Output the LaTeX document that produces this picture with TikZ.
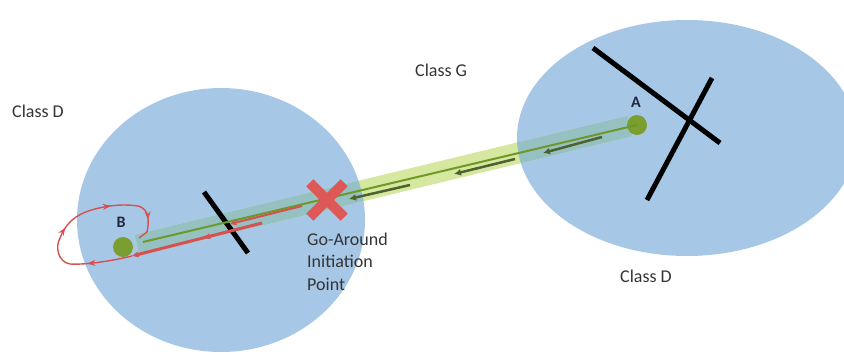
\documentclass[tikz,border=0pt]{standalone}
\usepackage{fontspec}
\setmainfont{Carlito}
\usetikzlibrary{arrows.meta,decorations.markings}
\definecolor{zoneblue}{RGB}{167,199,230}
\definecolor{bandgreen}{RGB}{214,232,160}
\definecolor{bandteal}{RGB}{150,193,195}
\definecolor{ptgreen}{RGB}{122,158,48}
\definecolor{linegreen}{RGB}{110,152,40}
\definecolor{arrowgreen}{RGB}{78,98,48}
\definecolor{xred}{RGB}{222,88,88}
\definecolor{pathred}{RGB}{214,80,80}
\definecolor{txt}{RGB}{52,52,52}
\definecolor{ptxt}{RGB}{30,40,60}
\begin{document}
\begin{tikzpicture}[x=1pt,y=-1pt,
  zone/.style={fill=zoneblue,draw=none},
  lbl/.style={font=\fontsize{18}{22}\selectfont, text=txt, anchor=base west, inner sep=0pt},
  ptnode/.style={circle, fill=ptgreen, minimum size=20pt, inner sep=0pt},
  ptlbl/.style={font=\bfseries\fontsize{16}{18}\selectfont, text=ptxt, inner sep=0pt},
  fly/.style={draw=arrowgreen, line width=2.5pt, -{Latex[length=7pt,width=7pt]}},
  bar/.style={draw=black, line width=5pt},
  redarrow/.style={draw=pathred, -{Stealth[length=7pt,width=6pt]}},
  band/.style={line width=21pt}
]
\useasboundingbox (0,0) rectangle (844,356);
\clip (0,0) rectangle (844,356);
% zones
\fill[zone] (221,220) ellipse [x radius=144, y radius=132];
\fill[zone] (687,138) ellipse [x radius=170, y radius=118];
% corridor band
\coordinate (bandB) at (137,245);
\coordinate (bandA) at (630,126);
\draw[bandgreen, band] (bandB) -- (bandA);
\begin{scope}
  \clip (221,220) ellipse [x radius=144, y radius=132];
  \draw[bandteal, band] (bandB) -- (bandA);
\end{scope}
\begin{scope}
  \clip (687,138) ellipse [x radius=170, y radius=118];
  \draw[bandteal, band] (bandB) -- (bandA);
\end{scope}
% runway bars
\coordinate (r1a) at (593,48);  \coordinate (r1b) at (720,143);
\coordinate (r2a) at (712,78);  \coordinate (r2b) at (647,200);
\coordinate (r3a) at (204,192); \coordinate (r3b) at (248,253);
\draw[bar] (r1a) -- (r1b);
\draw[bar] (r2a) -- (r2b);
\draw[bar] (r3a) -- (r3b);
% points
\node[ptnode] (A) at (637,125) {};
\node[ptnode] (B) at (123,247) {};
\node[ptlbl] (Alab) at (636,102) {A};
\node[ptlbl] (Blab) at (121,222) {B};
% green track
\coordinate (trackend) at (143,242);
\draw[linegreen, line width=2pt] (A.center) -- (trackend);
% flight arrows
\coordinate (f1s) at (602,137); \coordinate (f1e) at (543,153);
\coordinate (f2s) at (515,159); \coordinate (f2e) at (454,174);
\coordinate (f3s) at (410,185); \coordinate (f3e) at (349,199);
\draw[fly] (f1s) -- (f1e);
\draw[fly] (f2s) -- (f2e);
\draw[fly] (f3s) -- (f3e);
% go-around red path
\coordinate (g1s) at (302,206); \coordinate (g1e) at (230,224);
\coordinate (g2s) at (262,223); \coordinate (g2e) at (132,256);
\draw[redarrow, line width=2pt] (g1s) -- (g1e);
\draw[redarrow, line width=3pt,
  postaction={decorate},
  decoration={markings, mark=at position 0.45 with {\arrow{Stealth[length=7pt,width=6pt]}}}]
  (g2s) -- (g2e);
\draw[pathred, line width=1.4pt,
  postaction={decorate},
  decoration={markings,
    mark=at position 0.2 with {\arrow{Stealth[length=8pt,width=6pt]}},
    mark=at position 0.47 with {\arrow{Stealth[length=8pt,width=6pt]}},
    mark=at position 0.7 with {\arrow{Stealth[length=8pt,width=6pt]}},
    mark=at position 0.9 with {\arrow{Stealth[length=8pt,width=6pt]}}}]
  (g2e) .. controls (112,261) and (85,265) .. (70,264)
        .. controls (58,262) and (55,247) .. (60,238)
        .. controls (65,226) and (72,215) .. (95,209)
        .. controls (110,205) and (125,204) .. (138,206)
        .. controls (150,209) and (149,222) .. (147,232)
        -- (139,238);
% go-around initiation point
\node[inner sep=0pt, minimum size=34pt] (X) at (327,200) {};
\draw[xred, line width=10pt] (X.north west) -- (X.south east);
\draw[xred, line width=10pt] (X.north east) -- (X.south west);
% texts
\node[lbl] (cd1) at (12,117) {Class D};
\node[lbl] (cg) at (415,76) {Class G};
\node[lbl] (cd2) at (620,282) {Class D};
\node[lbl] (ga1) at (307,245) {Go-Around};
\node[lbl] (ga2) at (307,267) {Initiation};
\node[lbl] (ga3) at (307,290) {Point};
\end{tikzpicture}
\end{document}
